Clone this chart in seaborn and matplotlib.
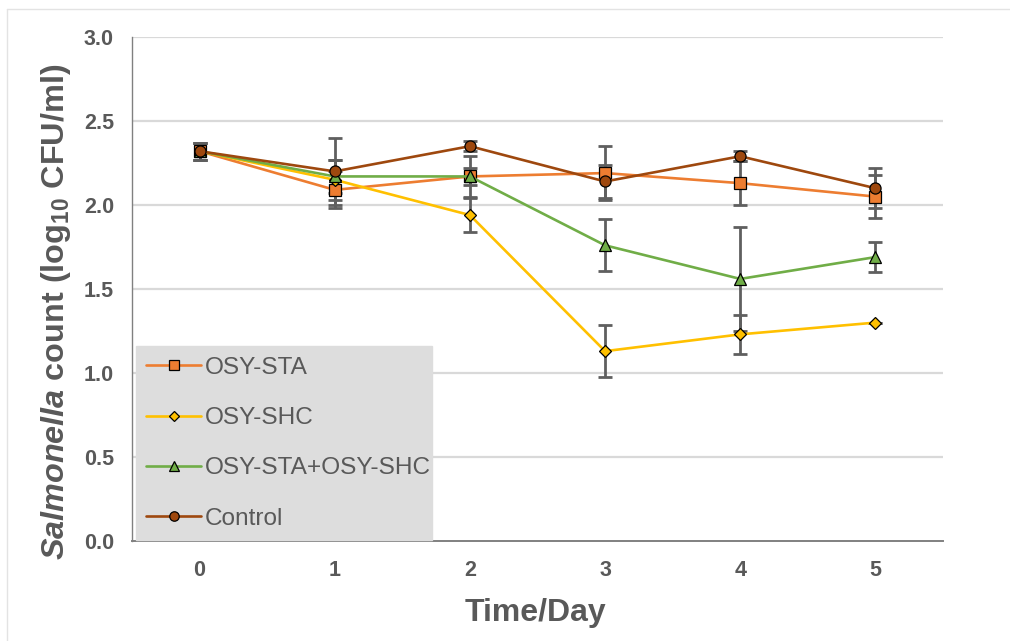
import numpy as np
import pandas as pd
import seaborn as sns
import matplotlib
matplotlib.use("Agg")
import matplotlib.pyplot as plt
from matplotlib.lines import Line2D

# ---- data ----
days = [0, 1, 2, 3, 4, 5]
series_names = ["OSY-STA", "OSY-SHC", "OSY-STA+OSY-SHC", "Control"]
sta = [2.32, 2.09, 2.17, 2.19, 2.13, 2.05]
sta_err = [0.05, 0.11, 0.12, 0.16, 0.13, 0.13]
shc = [2.32, 2.15, 1.94, 1.13, 1.23, 1.30]
shc_err = [0.05, 0.12, 0.10, 0.155, 0.115, 0.0]
combo = [2.32, 2.17, 2.17, 1.76, 1.56, 1.69]
combo_err = [0.05, 0.10, 0.05, 0.155, 0.31, 0.09]
control = [2.32, 2.20, 2.35, 2.14, 2.29, 2.10]
control_err = [0.05, 0.20, 0.03, 0.10, 0.03, 0.12]
y_ticks = [0.0, 0.5, 1.0, 1.5, 2.0, 2.5, 3.0]

colors = ["#ED7D31", "#FFC000", "#70AD47", "#9E480E"]
markers = ["s", "D", "^", "o"]
msizes = [8, 6.5, 8.5, 8]

df = pd.DataFrame({
    "Day": days * 4,
    "Count": sta + shc + combo + control,
    "SD": sta_err + shc_err + combo_err + control_err,
    "Series": [n for n in series_names for _ in days],
})

sns.set_style("white")
plt.rcParams["font.family"] = ["Liberation Sans", "DejaVu Sans"]
plt.rcParams["mathtext.fontset"] = "custom"
plt.rcParams["mathtext.rm"] = "Liberation Sans:bold"
plt.rcParams["mathtext.it"] = "Liberation Sans:bold:italic"
plt.rcParams["mathtext.bf"] = "Liberation Sans:bold"

TXT = "#595959"

fig = plt.figure(figsize=(10.10, 6.41), dpi=100)
ax = fig.add_axes([132/1010, 1 - 541/641, (943-132)/1010, (541-37)/641])

# gridlines
for yv in y_ticks[1:]:
    ax.axhline(yv, color="#D9D9D9", lw=1.6, zorder=0)

# error bars
for i, name in enumerate(series_names):
    sub = df[df["Series"] == name]
    ax.errorbar(sub["Day"], sub["Count"], yerr=sub["SD"], fmt="none",
                ecolor="#5F5F5F", elinewidth=2.0, capsize=4.8, capthick=2.0,
                zorder=2 + i * 0.1)

# lines + markers with seaborn
for i, name in enumerate(series_names):
    sub = df[df["Series"] == name]
    sns.lineplot(data=sub, x="Day", y="Count", ax=ax, color=colors[i],
                 marker=markers[i], markersize=msizes[i], markeredgecolor="black",
                 markeredgewidth=0.9, linewidth=1.9, legend=False,
                 zorder=3 + i * 0.1, errorbar=None)

ax.set_xlim(-0.5, 5.5)
ax.set_ylim(0, 3.0)
ax.set_xticks(days)
ax.set_xticklabels([str(d) for d in days])
ax.set_yticks(y_ticks)
ax.set_yticklabels([f"{v:.1f}" for v in y_ticks])
ax.tick_params(axis="both", length=0, labelsize=15.5, labelcolor=TXT)
ax.tick_params(axis="y", pad=13)
ax.tick_params(axis="x", pad=14)
for lab in ax.get_xticklabels() + ax.get_yticklabels():
    lab.set_fontweight("bold")

for s in ["top", "right"]:
    ax.spines[s].set_visible(False)
ax.spines["left"].set_color("#808080")
ax.spines["left"].set_linewidth(1.0)
ax.spines["bottom"].set_color("#808080")
ax.spines["bottom"].set_linewidth(1.4)
ax.spines["left"].set_zorder(1)

ax.set_xlabel("Time/Day", fontsize=23, fontweight="bold", color=TXT)
ax.xaxis.set_label_coords((535.5 - 132) / 811, (541 - 613) / 504)
ax.xaxis.label.set_va("center")
ax.set_ylabel(r"$\mathit{Salmonella}$ count (log$_{10}$ CFU/ml)",
              fontsize=23.3, fontweight="bold", color=TXT)
ax.yaxis.set_label_coords((56 - 132) / 811, (541 - 312) / 504)
ax.yaxis.label.set_va("center")

# legend
handles = [Line2D([0], [0], color=colors[i], marker=markers[i],
                  markersize=msizes[i] * 0.85, markeredgecolor="black",
                  markeredgewidth=0.9, linewidth=1.9)
           for i in range(4)]
leg = ax.legend(handles, series_names, loc="lower left",
                bbox_to_anchor=((135 - 132) / 811, 0.0, (433 - 135) / 811, 0.389),
                mode="expand", fontsize=17.6, frameon=True, fancybox=False,
                facecolor="#DDDDDD", edgecolor="#DDDDDD", framealpha=1,
                labelcolor=TXT, handlelength=2.25, handletextpad=0.15,
                labelspacing=1.15, borderpad=0.42, borderaxespad=0.05)
leg.set_zorder(5)

# figure frame (light gray)
fig.add_artist(Line2D([7/1010, 1], [1 - 9/641, 1 - 9/641], color="#E3E3E3", lw=1))
fig.add_artist(Line2D([7/1010, 7/1010], [0, 1 - 9/641], color="#E3E3E3", lw=1))

fig.savefig("out.png", dpi=100)
